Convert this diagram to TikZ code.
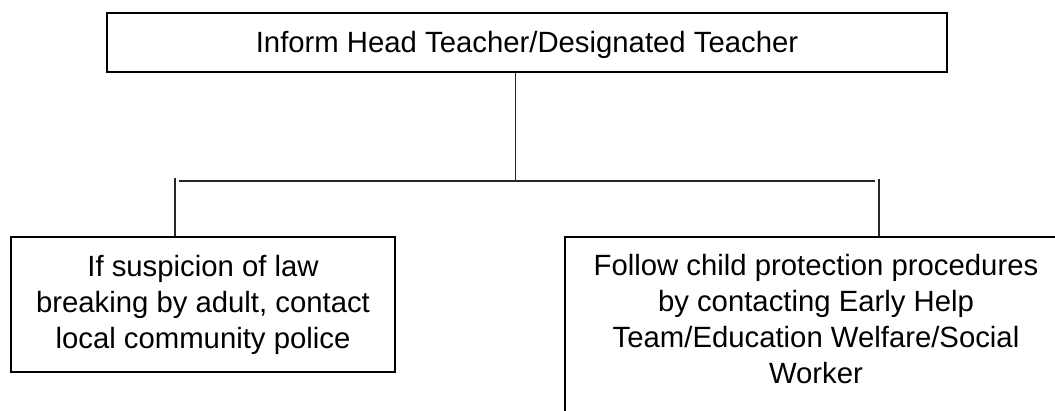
\documentclass[tikz,border=0pt]{standalone}
\usepackage{fontspec}
\setmainfont{Liberation Sans}
\begin{document}
\begin{tikzpicture}[x=1pt,y=1pt,
  box/.style={draw=black, line width=2.2pt, align=center, inner sep=0pt,
    font=\fontsize{29.3}{36}\selectfont},
  conn/.style={draw=black!85, line width=1.2pt}]
\useasboundingbox (0,0) rectangle (1055,410);
% boxes (y = 410 - pixel row)
\node[box, minimum width=840.5pt, minimum height=59pt, text depth=2.2pt] (top) at (527,367.5)
  {Inform Head Teacher/Designated Teacher};
\node[box, minimum width=384pt, minimum height=135pt] (left) at (203,105.5)
  {If suspicion of law\\breaking by adult, contact\\local community police};
\node[box, minimum width=502pt, minimum height=175pt, text depth=10.4pt] (right) at (816,85.5)
  {Follow child protection procedures\\by contacting Early Help\\Team/Education Welfare/Social\\Worker};
% connector points
\coordinate (j) at (515.7,229);
\coordinate (hL) at (179,229);
\coordinate (hR) at (875,229);
\coordinate (vL) at (175,232);
\coordinate (vR) at (879,231);
\draw[conn] (top.south -| j) -- (j);
\draw[conn] (hL) -- (hR);
\draw[conn] (vL) -- (vL |- left.north);
\draw[conn] (vR) -- (vR |- right.north);
\end{tikzpicture}
\end{document}
